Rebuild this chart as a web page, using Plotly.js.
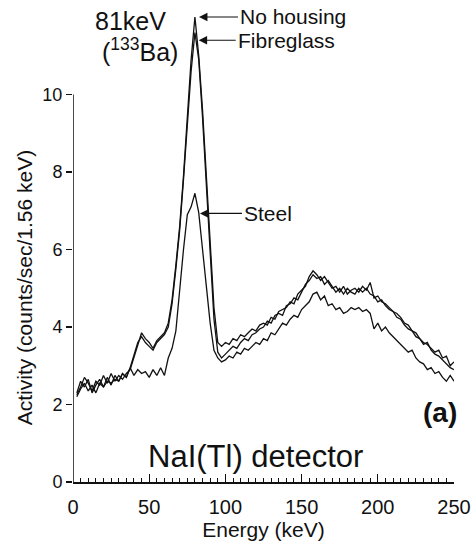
<!DOCTYPE html>
<html>
<head>
<meta charset="utf-8">
<script src="https://cdn.plot.ly/plotly-3.0.1.min.js"></script>
<style>html,body{margin:0;padding:0;background:#fff;}#chart{width:476px;height:548px;}</style>
</head>
<body>
<div id="chart"></div>
<script>
const energy = [2.5,5,7.5,10,12.5,15,17.5,20,22.5,25,
 27.5,30,32.5,35,37.5,40,42.5,45,47.5,50,
 52.5,55,57.5,60,62.5,65,67.5,70,72.5,75,
 77.5,80,82.5,85,87.5,90,92.5,95,97.5,100,
 102.5,105,107.5,110,112.5,115,117.5,120,122.5,125,
 127.5,130,132.5,135,137.5,140,142.5,145,147.5,150,
 152.5,155,157.5,160,162.5,165,167.5,170,172.5,175,
 177.5,180,182.5,185,187.5,190,192.5,195,197.5,200,
 202.5,205,207.5,210,212.5,215,217.5,220,222.5,225,
 227.5,230,232.5,235,237.5,240,242.5,245,247.5,250];

const noHousing = [2.25,2.45,2.7,2.55,2.35,2.6,2.5,2.75,2.55,2.8,
 2.6,2.75,2.65,2.8,2.9,3.2,3.55,3.85,3.7,3.6,
 3.45,3.65,3.75,3.85,4.1,4.7,5.6,6.6,7.9,9.4,
 10.9,12.0,11.0,9.6,7.9,6.2,4.5,3.6,3.5,3.6,
 3.55,3.7,3.65,3.8,3.75,3.85,3.95,3.9,4.05,4.1,
 4.05,4.25,4.2,4.4,4.45,4.5,4.65,4.6,4.85,4.95,
 5.05,5.3,5.45,5.35,5.2,5.3,5.15,5.0,5.05,4.9,
 5.05,4.85,4.95,5.0,4.9,5.05,4.95,5.15,4.75,4.8,
 4.65,4.6,4.5,4.4,4.35,4.25,4.1,4.05,3.9,3.85,
 3.7,3.6,3.55,3.45,3.35,3.4,3.2,3.25,3.0,3.1];

const fibreglass = [2.3,2.6,2.45,2.65,2.3,2.5,2.65,2.45,2.7,2.5,
 2.75,2.6,2.8,2.7,2.95,3.3,3.6,3.75,3.6,3.5,
 3.4,3.6,3.7,3.8,4.0,4.6,5.5,6.5,7.8,9.2,
 10.6,11.6,10.9,9.4,7.7,5.9,4.2,3.35,3.2,3.3,
 3.4,3.5,3.45,3.6,3.7,3.65,3.8,3.85,3.95,4.0,
 4.15,4.1,4.3,4.35,4.3,4.55,4.6,4.75,4.7,4.9,
 5.1,5.2,5.35,5.25,5.3,5.1,5.2,5.05,4.9,5.0,
 4.85,5.0,4.9,4.85,5.0,4.9,5.0,4.85,4.8,4.65,
 4.7,4.55,4.45,4.4,4.25,4.2,4.05,3.95,3.9,3.75,
 3.7,3.55,3.6,3.4,3.3,3.25,3.15,3.05,2.95,2.9];

const steel = [2.2,2.4,2.55,2.35,2.5,2.3,2.55,2.45,2.6,2.55,
 2.65,2.6,2.8,2.7,2.95,2.75,2.9,2.8,2.85,2.7,
 2.9,2.75,2.95,2.75,3.2,3.45,3.9,5.0,6.0,6.9,
 7.1,7.45,6.95,6.0,5.0,4.1,3.4,3.2,3.1,3.15,
 3.25,3.2,3.35,3.3,3.45,3.4,3.5,3.6,3.55,3.7,
 3.65,3.85,3.8,3.95,4.1,4.05,4.2,4.3,4.25,4.45,
 4.55,4.65,4.85,4.9,4.7,4.8,4.55,4.6,4.45,4.5,
 4.35,4.4,4.5,4.45,4.5,4.4,4.45,4.35,3.95,4.1,
 3.9,4.0,3.85,3.75,3.65,3.55,3.45,3.35,3.4,3.2,
 3.1,3.05,2.9,2.95,2.8,2.85,2.7,2.6,2.75,2.6];

const xTicks = [0,50,100,150,200,250];
const yTicks = [0,2,4,6,8,10];

const FONT = '"Liberation Sans", Arial, Helvetica, sans-serif';
const lineStyle = {color:'#111', width:1.3};

const traces = [
  {x: energy, y: noHousing, name:'No housing', type:'scatter', mode:'lines', line: lineStyle},
  {x: energy, y: fibreglass, name:'Fibreglass', type:'scatter', mode:'lines', line: lineStyle},
  {x: energy, y: steel, name:'Steel', type:'scatter', mode:'lines', line: lineStyle}
];

const arrowCommon = {xref:'x', yref:'y', showarrow:true, arrowhead:2, arrowsize:1.4, arrowwidth:1.2,
  arrowcolor:'#111', ay:0, xanchor:'left', font:{family:FONT, size:21, color:'#111'}};

const layout = {
  width: 476, height: 548,
  margin: {l:73, r:22, t:10, b:66},
  paper_bgcolor:'#fff', plot_bgcolor:'#fff',
  showlegend:false,
  font: {family: FONT, color:'#111'},
  xaxis: {
    range:[0,250], tickvals: xTicks, ticktext: xTicks.map(String),
    ticks:'inside', ticklen:8, tickwidth:1.2, tickcolor:'#111',
    minor: {dtick:5, ticks:'inside', ticklen:4, tickwidth:1, tickcolor:'#111', showgrid:false},
    showline:true, linecolor:'#111', linewidth:1.5,
    showgrid:false, zeroline:false,
    tickfont:{family:FONT, size:20, color:'#111'},
    ticklabelstandoff: 6,
    title:{text:'Energy (keV)', font:{family:FONT, size:21, color:'#111'}, standoff:6}
  },
  yaxis: {
    range:[0, 12.18], tickvals: yTicks, ticktext: yTicks.map(String),
    ticks:'outside', ticklen:6, tickwidth:1.2, tickcolor:'#111',
    showline:false, showgrid:false, zeroline:false,
    tickfont:{family:FONT, size:18, color:'#111'}
  },
  shapes: [
    {type:'line', xref:'x', yref:'y', x0:0, x1:0, y0:0, y1:10, line:{color:'#111', width:1.5}}
  ],
  annotations: [
    {xref:'paper', yref:'y', x:-0.1286, y:5, text:'Activity (counts/sec/1.56 keV)', textangle:-90,
     showarrow:false, xanchor:'center', yanchor:'middle', font:{family:FONT, size:21, color:'#111'}},
    {xref:'paper', yref:'paper', x:(130-73)/381, y:(482-21)/472, text:'81keV', showarrow:false,
     xanchor:'center', yanchor:'middle', font:{family:FONT, size:25, color:'#111'}},
    {xref:'paper', yref:'paper', x:(140-73)/381, y:(482-50)/472, text:'(<sup>133</sup>Ba)', showarrow:false,
     xanchor:'center', yanchor:'middle', font:{family:FONT, size:25, color:'#111'}},
    Object.assign({}, arrowCommon, {x:82.7, y:12.0, ax:39, text:'No housing'}),
    Object.assign({}, arrowCommon, {x:82.5, y:11.4, ax:37, text:'Fibreglass'}),
    Object.assign({}, arrowCommon, {x:83.3, y:6.93, ax:42, text:'Steel'}),
    {xref:'paper', yref:'paper', x:(440-73)/381, y:(482-412)/472, text:'<b>(a)</b>', showarrow:false,
     xanchor:'center', yanchor:'middle', font:{family:FONT, size:28, color:'#111'}},
    {xref:'paper', yref:'paper', x:(255-73)/381, y:(482-456)/472, text:'NaI(Tl) detector', showarrow:false,
     xanchor:'center', yanchor:'middle', font:{family:FONT, size:31, color:'#111'}}
  ]
};

Plotly.newPlot('chart', traces, layout, {displayModeBar:false, staticPlot:true});
</script>
</body>
</html>
